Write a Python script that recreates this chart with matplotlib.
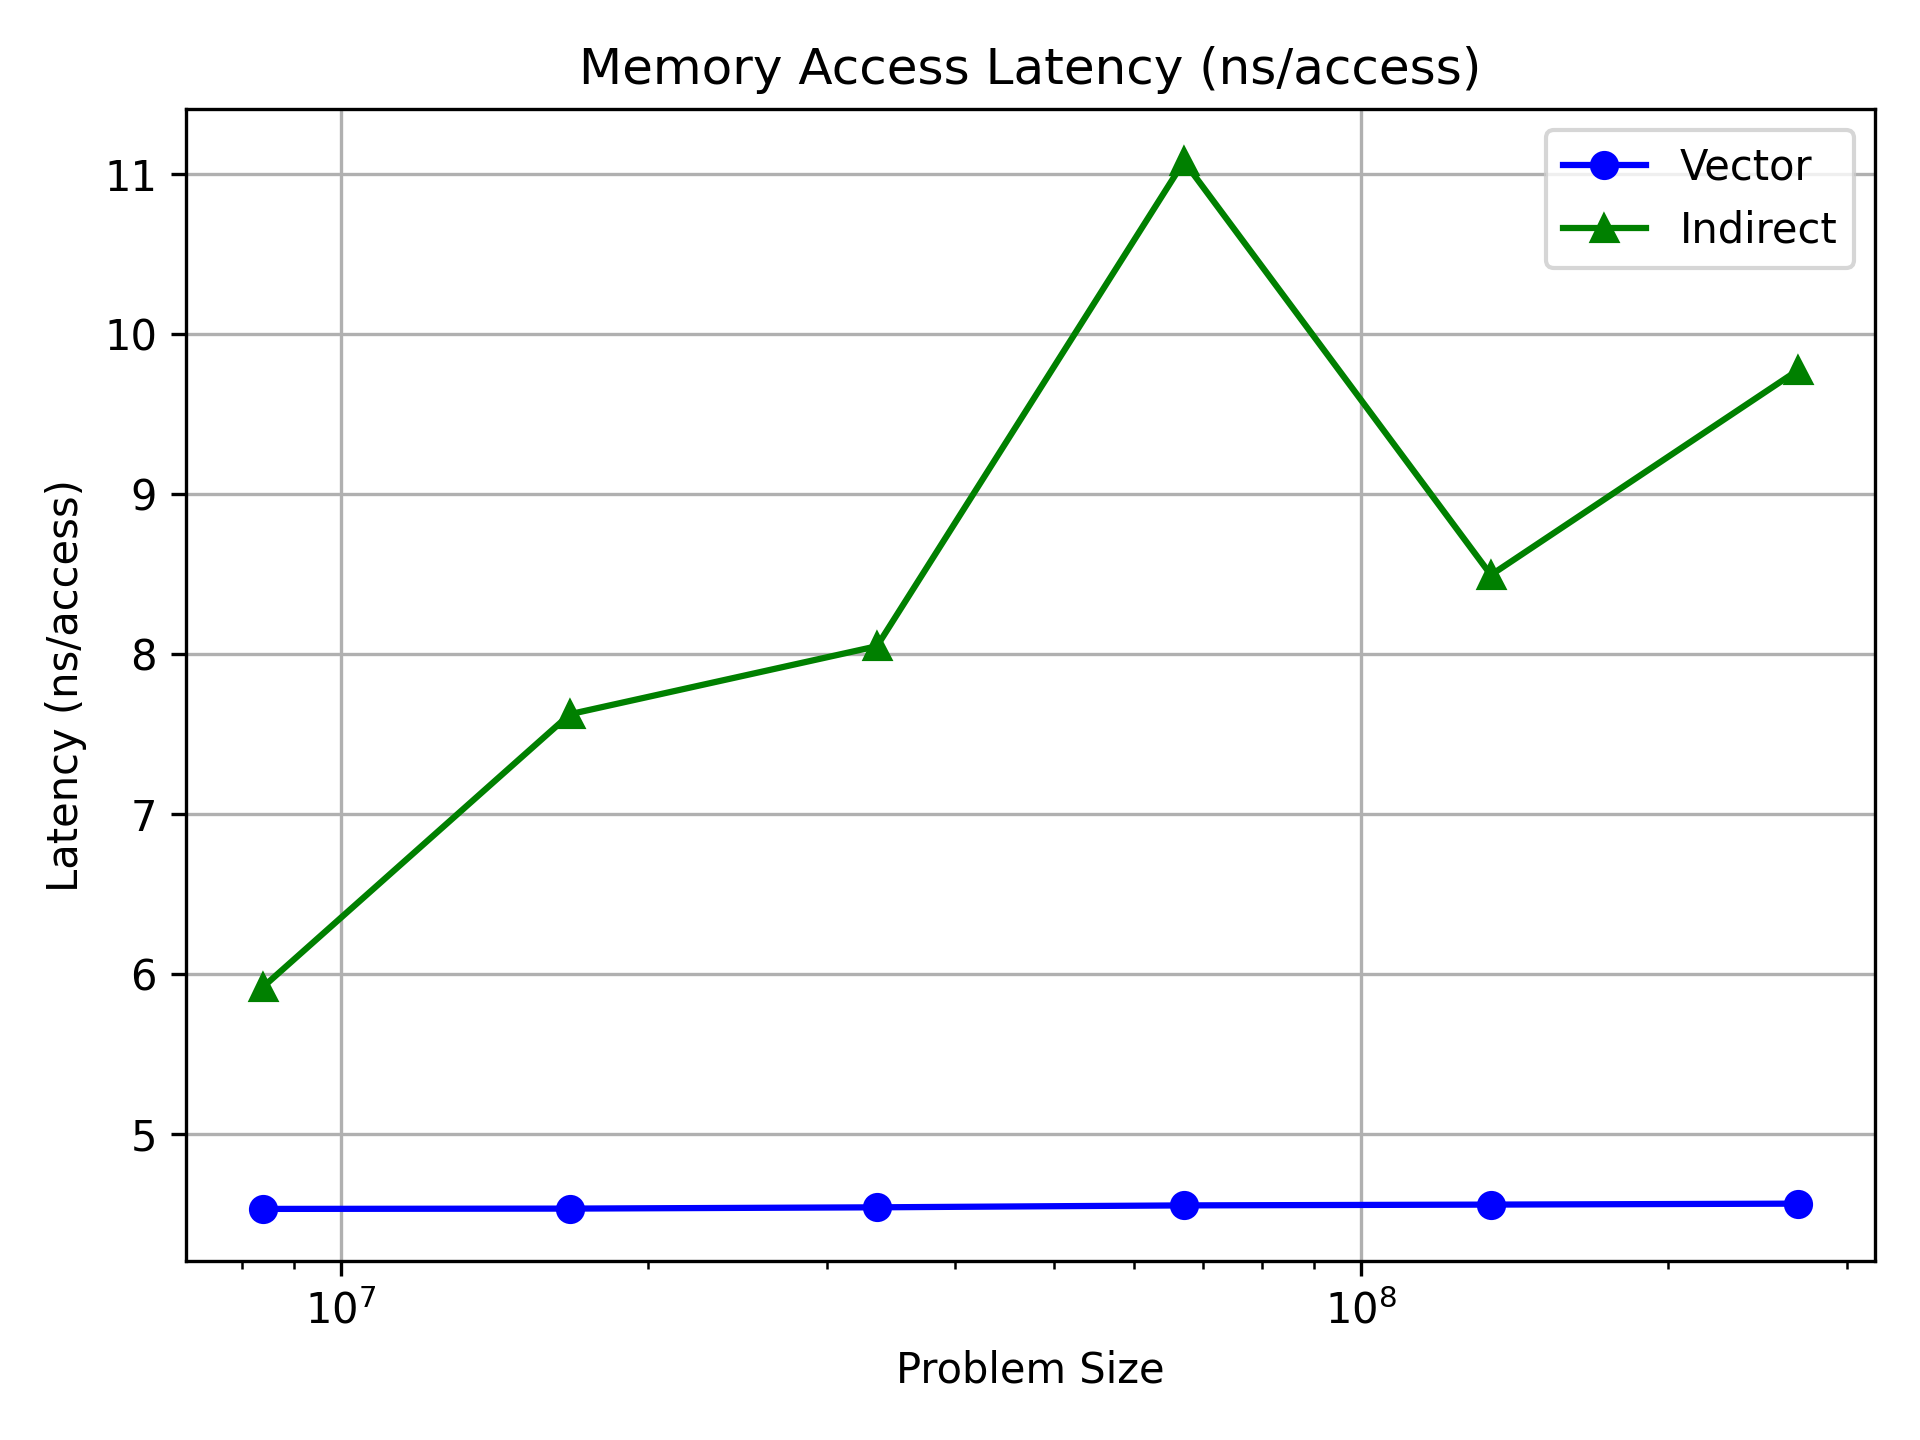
import matplotlib
matplotlib.use("Agg")
import matplotlib.pyplot as plt

# problem sizes (powers of two) and measured latencies
sizes = [2**23, 2**24, 2**25, 2**26, 2**27, 2**28]
vector = [4.533, 4.535, 4.543, 4.555, 4.560, 4.566]
indirect = [5.92, 7.625, 8.05, 11.08, 8.495, 9.775]

fig, ax = plt.subplots(figsize=(6.4, 4.8))
ax.plot(sizes, vector, "-o", color="blue", label="Vector")
ax.plot(sizes, indirect, "-^", color="green", label="Indirect")
ax.set_xscale("log")
ax.set_xlabel("Problem Size")
ax.set_ylabel("Latency (ns/access)")
ax.set_title("Memory Access Latency (ns/access)")
ax.grid(True)
ax.legend()

fig.subplots_adjust(left=0.097, right=0.9764, top=0.9243, bottom=0.1241)
fig.savefig("out.png", dpi=300)
